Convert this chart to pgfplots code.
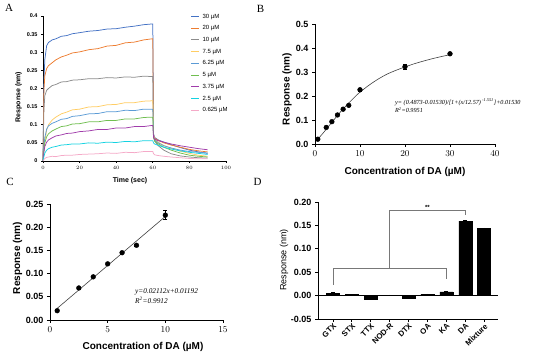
\documentclass[border=0pt]{standalone}
\usepackage{fontspec}
\setmainfont{Liberation Serif}
\setsansfont{Liberation Sans}
\newfontfamily\arial{Liberation Sans}
\usepackage{pgfplots}
\usepackage{pgfplotstable}
\pgfplotsset{compat=1.18}

\definecolor{cA}{RGB}{68,114,196}
\definecolor{cB}{RGB}{237,125,49}
\definecolor{cC}{RGB}{140,140,140}
\definecolor{cD}{RGB}{255,205,100}
\definecolor{cE}{RGB}{91,155,213}
\definecolor{cF}{RGB}{112,190,80}
\definecolor{cG}{RGB}{160,60,170}
\definecolor{cH}{RGB}{20,210,225}
\definecolor{cI}{RGB}{245,170,200}
\definecolor{brk}{RGB}{120,120,120}

\pgfplotstableread{
t a30 a20 a10 a75 a625 a5 a375 a25 a0625
0 0 0 0 0 0 0 0 0 0
0.3 0.150 0.120 0.090 0.018 0.025 0.018 0.015 0.007 0.002
0.5 0.220 0.195 0.140 0.030 0.040 0.030 0.025 0.012 0.004
1 0.280 0.235 0.180 0.055 0.065 0.050 0.040 0.022 0.007
2 0.318 0.255 0.195 0.085 0.088 0.067 0.052 0.030 0.010
3 0.327 0.263 0.200 0.100 0.097 0.075 0.058 0.034 0.011
5 0.334 0.271 0.208 0.113 0.104 0.083 0.064 0.038 0.013
7 0.337 0.279 0.211 0.121 0.108 0.088 0.069 0.040 0.012
10 0.344 0.287 0.218 0.130 0.115 0.095 0.072 0.044 0.015
13 0.346 0.292 0.219 0.135 0.117 0.097 0.076 0.045 0.016
16 0.351 0.298 0.223 0.141 0.123 0.102 0.077 0.047 0.016
20 0.354 0.301 0.224 0.143 0.125 0.103 0.081 0.047 0.018
25 0.358 0.307 0.227 0.149 0.130 0.108 0.083 0.050 0.019
30 0.360 0.310 0.227 0.150 0.131 0.108 0.087 0.049 0.020
35 0.364 0.317 0.230 0.155 0.136 0.112 0.087 0.052 0.022
40 0.365 0.319 0.229 0.156 0.136 0.112 0.091 0.051 0.021
45 0.369 0.326 0.232 0.161 0.140 0.116 0.091 0.054 0.024
50 0.372 0.328 0.231 0.161 0.139 0.116 0.095 0.053 0.023
55 0.376 0.334 0.234 0.165 0.143 0.120 0.095 0.056 0.026
59.5 0.378 0.337 0.233 0.166 0.143 0.121 0.098 0.056 0.026
60 0.378 0.337 0.233 0.166 0.143 0.121 0.098 0.056 0.026
60.4 0.075 0.072 0.070 0.070 0.068 0.065 0.065 0.050 0.020
61 0.065 0.063 0.055 0.060 0.058 0.055 0.060 0.047 0.017
63 0.058 0.057 0.042 0.052 0.050 0.047 0.056 0.043 0.015
66 0.052 0.050 0.030 0.043 0.042 0.038 0.052 0.038 0.013
70 0.045 0.044 0.020 0.035 0.036 0.030 0.047 0.033 0.011
75 0.037 0.038 0.014 0.027 0.030 0.022 0.042 0.028 0.009
80 0.030 0.032 0.011 0.021 0.026 0.016 0.038 0.024 0.007
85 0.025 0.028 0.009 0.016 0.024 0.013 0.034 0.021 0.006
90 0.021 0.025 0.008 0.013 0.022 0.011 0.031 0.018 0.006
}\kinetics

\pgfplotsset{
  gp/.style={scale only axis, anchor=south west, clip=false,
    axis x line*=bottom, axis y line*=left,
    tick align=outside, major tick length=3pt,
    axis line style={line width=0.8pt, black},
    every tick/.style={line width=0.8pt, black},
    tick label style={font=\arial\bfseries\fontsize{9}{10}\selectfont},
    xtick pos=bottom, ytick pos=left},
  kin/.style={line width=0.75pt},
  errs/.style={error bars/.cd, y dir=both, y explicit,
    error bar style={line width=0.6pt, black},
    error mark options={rotate=90, mark size=2pt, line width=0.6pt, black}}
}

\begin{document}
\begin{tikzpicture}[x=1pt,y=1pt]
\useasboundingbox (0,0) rectangle (550,355);

% ---------------- Panel A ----------------
\begin{axis}[gp, at={(43pt,194pt)}, width=183pt, height=145pt,
  xmin=0, xmax=100, ymin=0, ymax=0.4,
  major tick length=2pt,
  axis line style={line width=0.6pt}, every tick/.style={line width=0.6pt, black},
  tick label style={font=\arial\bfseries\fontsize{5.5}{6}\selectfont},
  xtick={0,20,40,60,80,100},
  ytick={0,0.05,0.1,0.15,0.2,0.25,0.3,0.35,0.4},
  yticklabels={0,0.05,0.1,0.15,0.2,0.25,0.3,0.35,0.4},
  legend style={at={(axis description cs:0.79,1.035)}, anchor=north west,
    draw=none, fill=none, font=\arial\fontsize{6}{7}\selectfont,
    row sep=5pt, nodes={inner sep=0.5pt, text height=4.5pt, text depth=1.2pt}},
  legend cell align=left,
  legend image code/.code={\draw[#1, line width=0.8pt] (0pt,0pt) -- (8pt,0pt);},
  /tikz/every odd column/.append style={column sep=2.5pt}]
\addplot[kin, cA] table[x=t, y=a30] {\kinetics}; \addlegendentry{30 µM}
\addplot[kin, cB] table[x=t, y=a20] {\kinetics}; \addlegendentry{20 µM}
\addplot[kin, cC] table[x=t, y=a10] {\kinetics}; \addlegendentry{10 µM}
\addplot[kin, cD] table[x=t, y=a75] {\kinetics}; \addlegendentry{7.5 µM}
\addplot[kin, cE] table[x=t, y=a625] {\kinetics}; \addlegendentry{6.25 µM}
\addplot[kin, cF] table[x=t, y=a5] {\kinetics}; \addlegendentry{5 µM}
\addplot[kin, cG] table[x=t, y=a375] {\kinetics}; \addlegendentry{3.75 µM}
\addplot[kin, cH] table[x=t, y=a25] {\kinetics}; \addlegendentry{2.5 µM}
\addplot[kin, cI] table[x=t, y=a0625] {\kinetics}; \addlegendentry{0.625 µM}
\end{axis}

% ---------------- Panel B ----------------
\begin{axis}[gp, at={(315pt,211pt)}, width=180pt, height=120pt,
  xmin=0, xmax=40, ymin=0, ymax=0.5,
  xtick={0,10,20,30,40},
  ytick={0,0.1,0.2,0.3,0.4,0.5},
  yticklabels={0.0,0.1,0.2,0.3,0.4,0.5}]
\addplot[smooth, line width=0.6pt, black!75] coordinates {
 (0.5,0.019) (1,0.028) (2,0.050) (3,0.073) (4,0.096) (5,0.119) (6,0.141)
 (7,0.161) (8,0.180) (9,0.199) (10,0.216) (12,0.245) (14,0.270) (16,0.291)
 (18,0.307) (20,0.321) (22,0.334) (24,0.345) (26,0.355) (28,0.364) (30,0.372)};
\addplot[only marks, mark=*, mark size=2.4pt, black, errs] coordinates {
 (0.625,0.020) +- (0,0.002)
 (2.5,0.069) +- (0,0.002)
 (3.75,0.093) +- (0,0.002)
 (5,0.121) +- (0,0.002)
 (6.25,0.145) +- (0,0.002)
 (7.5,0.161) +- (0,0.002)
 (10,0.226) +- (0,0.008)
 (20,0.322) +- (0,0.012)
 (30,0.376) +- (0,0.003)};
\end{axis}

% ---------------- Panel C ----------------
\begin{axis}[gp, at={(50pt,35pt)}, width=173pt, height=116pt,
  xmin=0, xmax=15, ymin=0, ymax=0.25,
  xtick={0,5,10,15},
  ytick={0,0.05,0.1,0.15,0.2,0.25},
  yticklabels={0.00,0.05,0.10,0.15,0.20,0.25}]
\addplot[line width=0.6pt, black!75] coordinates {(0.625,0.0251) (10,0.2231)};
\addplot[only marks, mark=*, mark size=2.4pt, black, errs] coordinates {
 (0.625,0.020) +- (0,0.002)
 (2.5,0.069) +- (0,0.002)
 (3.75,0.093) +- (0,0.002)
 (5,0.121) +- (0,0.002)
 (6.25,0.145) +- (0,0.002)
 (7.5,0.161) +- (0,0.002)
 (10,0.226) +- (0,0.010)};
\end{axis}

% ---------------- Panel D ----------------
\begin{axis}[gp, at={(318pt,36pt)}, width=180pt, height=117pt,
  xmin=-0.79, xmax=8.73, ymin=-0.05, ymax=0.20,
  xtick={0,1,2,3,4,5,6,7,8},
  xticklabels={GTX,STX,TTX,NOD-R,DTX,OA,KA,DA,Mixture},
  x tick label style={rotate=45, anchor=north east, inner sep=0.5pt,
    font=\arial\bfseries\fontsize{7.8}{8}\selectfont},
  ytick={-0.05,0,0.05,0.1,0.15,0.2},
  yticklabels={-0.05,0.00,0.05,0.10,0.15,0.20}]
\addplot[ybar, bar width=13pt, fill=black, draw=black, errs] coordinates {
 (0,0.005) +- (0,0.001)
 (1,0.002) +- (0,0.0005)
 (2,-0.007) +- (0,0.0015)
 (3,0.001) +- (0,0.0005)
 (4,-0.005) +- (0,0.001)
 (5,0.003) +- (0,0.0008)
 (6,0.008) +- (0,0.0012)
 (7,0.159) +- (0,0.001)
 (8,0.143) +- (0,0.0015)};
\addplot[line width=0.8pt, black] coordinates {(-0.79,0) (8.73,0)};
\addplot[line width=0.8pt, brk] coordinates {(0,0.023) (0,0.058) (6,0.058) (6,0.036)};
\addplot[line width=0.8pt, brk] coordinates {(3,0.058) (3,0.183) (7,0.183) (7,0.173)};
\node[font=\arial\bfseries\fontsize{6}{6}\selectfont] at (axis cs:5,0.188) {**};
\end{axis}

% ---------------- labels ----------------
\node[rotate=90, font=\arial\bfseries\fontsize{7}{8}\selectfont] at (18.5,258) {Response (nm)};
\node[font=\arial\bfseries\fontsize{7}{8}\selectfont] at (130,174.5) {Time (sec)};

\node[rotate=90, font=\arial\bfseries\fontsize{10}{11}\selectfont] at (287,266) {Response (nm)};
\node[font=\arial\bfseries\fontsize{10}{11}\selectfont] at (405,183) {Concentration of DA (µM)};
\node[anchor=west, font=\itshape\fontsize{6.2}{7}\selectfont, inner sep=0pt] at (395,253)
  {y= (0.4873-0.01530)/[1+(x/12.57)\textsuperscript{ -1.551}]+0.01530};
\node[anchor=west, font=\itshape\fontsize{6.2}{7}\selectfont, inner sep=0pt] at (395,245)
  {R\textsuperscript{2}=0.9951};

\node[rotate=90, font=\arial\bfseries\fontsize{10}{11}\selectfont] at (17.5,97) {Response (nm)};
\node[font=\arial\bfseries\fontsize{10}{11}\selectfont] at (143,8.3) {Concentration of DA (µM)};
\node[anchor=west, font=\itshape\fontsize{7.3}{8}\selectfont, inner sep=0pt] at (135,63)
  {y=0.02112x+0.01192};
\node[anchor=west, font=\itshape\fontsize{7.3}{8}\selectfont, inner sep=0pt] at (135,55)
  {R\textsuperscript{2}=0.9912};

\node[rotate=90, font=\arial\fontsize{9}{10}\selectfont] at (284,95) {Response (nm)};

\node[font=\fontsize{11}{12}\selectfont] at (9,347) {A};
\node[font=\fontsize{11}{12}\selectfont] at (260.5,346.5) {B};
\node[font=\fontsize{11}{12}\selectfont] at (10,173) {C};
\node[font=\fontsize{11}{12}\selectfont] at (257.5,173.5) {D};
\end{tikzpicture}
\end{document}
